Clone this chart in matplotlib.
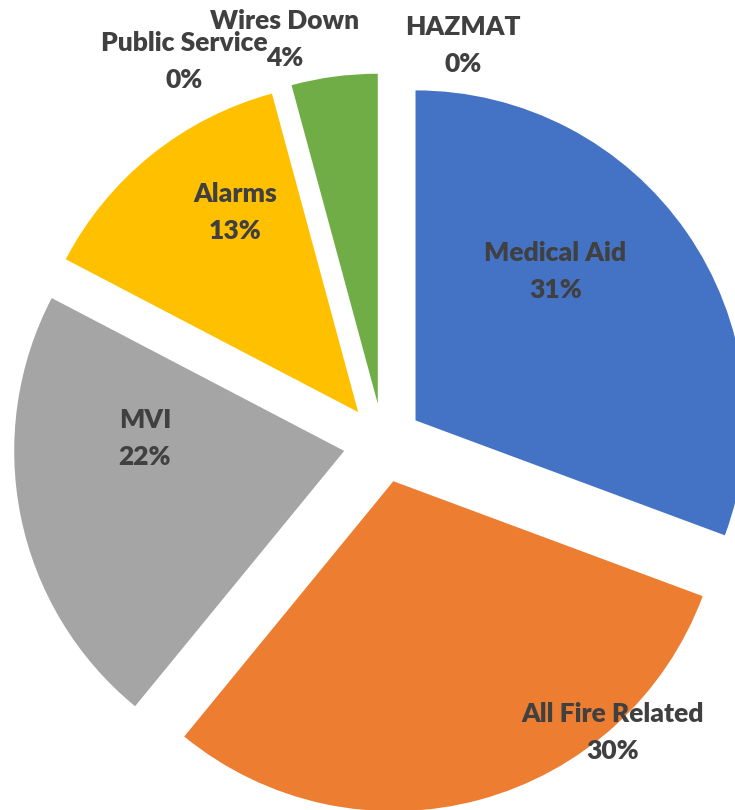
import matplotlib
matplotlib.use("Agg")
import matplotlib.pyplot as plt
import numpy as np

# incident categories, clockwise from 12 o'clock
categories = ["Medical Aid", "All Fire Related", "MVI", "Alarms",
              "Public Service", "Wires Down", "HAZMAT"]
# estimated call counts
counts = [306, 302, 217, 131, 0, 42, 0]

colors = ["#4472C4", "#ED7D31", "#A5A5A5", "#FFC000",
          "#5B9BD5", "#70AD47", "#264478"]

# label placement: (radius from slice centre, angle nudge from bisector in deg)
label_r = [0.62, 1.01, 0.605, 0.71, 1.185, 1.14, 1.11]
label_nudge = [12.0, 26.0, -15.0, -7.0, 13.6, 6.7, -12.6]

explode_amt = 0.12
px = 330.0  # pixels per unit radius

fig = plt.figure(figsize=(7.35, 8.1), dpi=100)
ax = fig.add_axes([0, 0, 1, 1])

wedges, _ = ax.pie(counts, colors=colors, startangle=90, counterclock=False,
                   explode=[explode_amt] * len(counts),
                   wedgeprops=dict(linewidth=0))

total = float(sum(counts))
for w, name, n, r, nudge in zip(wedges, categories, counts, label_r, label_nudge):
    mid = np.deg2rad((w.theta1 + w.theta2) / 2.0 + nudge)
    cx, cy = w.center
    pct = int(round(100.0 * n / total))
    ax.text(cx + r * np.cos(mid), cy + r * np.sin(mid), f"{name}\n{pct}%",
            ha="center", va="center", fontsize=19, fontweight="heavy",
            family=["Lato", "DejaVu Sans"], color="#404040", linespacing=1.65)

# crop so that the pie runs off the right and bottom edges like the original
ax.set_xlim(-383 / px, (735 - 383) / px)
ax.set_ylim(-(810 - 443) / px, 443 / px)
ax.set_aspect("equal")
ax.axis("off")

fig.savefig("out.png", dpi=100, facecolor="white")
